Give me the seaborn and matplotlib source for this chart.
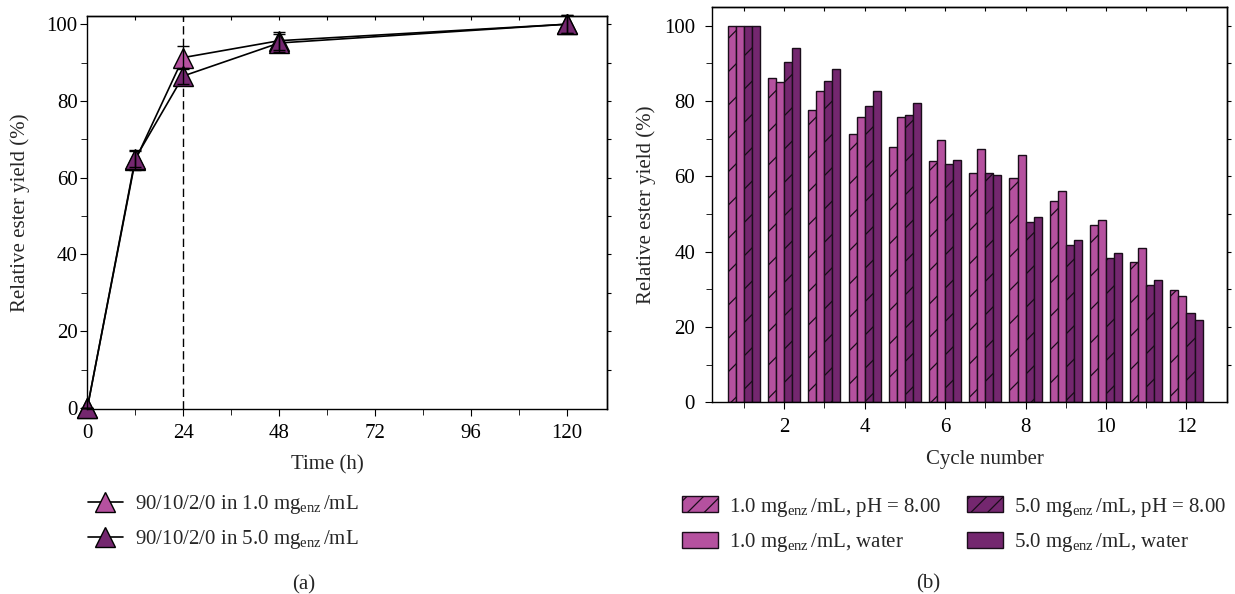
import pandas as pd
import seaborn as sns
import matplotlib.pyplot as plt
from matplotlib.lines import Line2D
from matplotlib.patches import Patch
from matplotlib.ticker import MultipleLocator, FixedLocator

# (a) relative ester yield vs time
time_h = [0, 12, 24, 48, 120]
yield_1mg = [0, 64.5, 91.3, 95.7, 100]
yield_5mg = [0, 65.0, 86.5, 95.1, 100]
err_1mg = [0, 2.4, 2.9, 2.3, 2.3]
err_5mg = [0, 2.3, 2.2, 2.4, 2.3]

# (b) relative ester yield per reuse cycle
cycles = list(range(1, 13))
ph8_1mg = [100, 86.0, 77.5, 71.3, 67.8, 64.1, 61.0, 59.7, 53.5, 47.0, 37.3, 29.7]
water_1mg = [100, 85.1, 82.8, 75.9, 75.7, 69.6, 67.4, 65.7, 56.1, 48.5, 40.9, 28.2]
ph8_5mg = [100, 90.3, 85.2, 78.7, 76.4, 63.3, 60.8, 48.0, 41.8, 38.3, 31.2, 23.6]
water_5mg = [100, 94.2, 88.6, 82.7, 79.6, 64.4, 60.3, 49.2, 43.0, 39.7, 32.6, 21.9]

LIGHT = "#b5519f"
DARK = "#74276f"
EDGE = "#1a0d1a"
MG = r"mg$_{\mathrm{enz}}\,$/mL"
lab_a = [f"90/10/2/0 in 1.0 {MG}", f"90/10/2/0 in 5.0 {MG}"]
lab_b = [f"1.0 {MG}, pH = 8.00", f"1.0 {MG}, water",
         f"5.0 {MG}, pH = 8.00", f"5.0 {MG}, water"]

sns.set_style("ticks")
plt.rcParams.update({
    "font.family": ["Liberation Serif", "DejaVu Serif"],
    "mathtext.fontset": "custom",
    "mathtext.rm": "Liberation Serif",
    "mathtext.it": "Liberation Serif:italic",
    "font.size": 15,
    "axes.linewidth": 1.0,
    "axes.edgecolor": "black",
    "xtick.major.size": 5, "ytick.major.size": 5,
    "xtick.minor.size": 4, "ytick.minor.size": 4,
    "xtick.color": "black", "ytick.color": "black",
    "hatch.linewidth": 0.9,
})
FS = 15

fig = plt.figure(figsize=(12.35, 5.94), dpi=100)
ax_a = fig.add_axes([0.0707, 0.3114, 0.4208, 0.6621])
ax_b = fig.add_axes([0.5763, 0.3227, 0.4170, 0.6650])

# ---- panel (a)
df_a = pd.DataFrame({
    "time": time_h * 2,
    "yield": yield_1mg + yield_5mg,
    "series": [lab_a[0]] * len(time_h) + [lab_a[1]] * len(time_h),
})
sns.lineplot(data=df_a, x="time", y="yield", hue="series", hue_order=lab_a,
             palette=[LIGHT, DARK], marker="^", markersize=14,
             markeredgecolor="k", markeredgewidth=1.0, linewidth=1.2,
             errorbar=None, legend=False, ax=ax_a, clip_on=False)
for ln in ax_a.lines:
    ln.set_markerfacecolor(ln.get_color())
    ln.set_color("k")
for y, e in [(yield_1mg, err_1mg), (yield_5mg, err_5mg)]:
    ax_a.errorbar(time_h, y, yerr=e, fmt="none", ecolor="k", elinewidth=1,
                  capsize=4, capthick=1, zorder=3, clip_on=False)
ax_a.axvline(24, color="k", lw=1, ls=(0, (6, 3)), zorder=1)

ax_a.set_xlim(0, 130)
ax_a.set_ylim(-0.26, 102.2)
ax_a.xaxis.set_major_locator(FixedLocator([0, 24, 48, 72, 96, 120]))
ax_a.xaxis.set_minor_locator(MultipleLocator(12))
ax_a.yaxis.set_major_locator(MultipleLocator(20))
ax_a.yaxis.set_minor_locator(MultipleLocator(10))
ax_a.tick_params(axis="x", which="both", direction="out", pad=6, labelsize=FS)
ax_a.tick_params(axis="y", which="both", direction="out", pad=2, labelsize=FS)
ax_a.set_xlabel("Time (h)", fontsize=FS)
ax_a.set_ylabel("Relative ester yield (%)", fontsize=FS)
ax_a.xaxis.label.set_va("center")
ax_a.yaxis.label.set_va("center")
ax_a.xaxis.set_label_coords(60 / 130, -0.1416)
ax_a.yaxis.set_label_coords(-0.1295, 0.5)
top_a = ax_a.secondary_xaxis("top")
top_a.set_xticks(list(range(12, 121, 12)))
top_a.tick_params(direction="in", length=3, labeltop=False)
right_a = ax_a.secondary_yaxis("right")
right_a.set_yticks(list(range(10, 101, 10)))
right_a.tick_params(direction="out", length=3, labelright=False)

hand_a = [Line2D([], [], color="k", lw=1.2, marker="^", markersize=14,
                 markerfacecolor=c, markeredgecolor="k", markeredgewidth=1.0)
          for c in (LIGHT, DARK)]
fig.legend(handles=hand_a, labels=lab_a, loc="center left",
           bbox_to_anchor=(88 / 1235, 1 - 522.4 / 594), frameon=False,
           borderpad=0, borderaxespad=0, handlelength=1.67,
           handletextpad=0.59, labelspacing=0.58, fontsize=FS)

# ---- panel (b)
df_b = pd.DataFrame({
    "cycle": cycles * 4,
    "yield": ph8_1mg + water_1mg + ph8_5mg + water_5mg,
    "condition": [c for c in lab_b for _ in cycles],
})
sns.barplot(data=df_b, x="cycle", y="yield", hue="condition", hue_order=lab_b,
            palette=[LIGHT, LIGHT, DARK, DARK], saturation=1, width=0.8,
            edgecolor=EDGE, linewidth=1.0, errorbar=None, legend=False, ax=ax_b)
for cont, h in zip(ax_b.containers, ["/", "", "/", ""]):
    for bar in cont:
        bar.set_hatch(h)

ax_b.set_xlim(-0.8, 12.0)
ax_b.set_ylim(0, 104.9)
ax_b.set_xticks([1, 3, 5, 7, 9, 11], labels=["2", "4", "6", "8", "10", "12"])
ax_b.xaxis.set_minor_locator(FixedLocator([0, 2, 4, 6, 8, 10]))
ax_b.yaxis.set_major_locator(MultipleLocator(20))
ax_b.yaxis.set_minor_locator(MultipleLocator(10))
ax_b.tick_params(axis="x", which="both", direction="out", pad=6, labelsize=FS)
ax_b.tick_params(axis="y", which="both", direction="out", pad=7, labelsize=FS)
ax_b.set_xlabel("Cycle number", fontsize=FS)
ax_b.set_ylabel("Relative ester yield (%)", fontsize=FS)
ax_b.xaxis.label.set_va("center")
ax_b.yaxis.label.set_va("center")
ax_b.xaxis.set_label_coords(6.8 / 12.8, -0.1443)
ax_b.yaxis.set_label_coords(-0.1276, 0.5)
top_b = ax_b.secondary_xaxis("top")
top_b.set_xticks(list(range(0, 12)))
top_b.tick_params(direction="in", length=3, labeltop=False)
right_b = ax_b.secondary_yaxis("right")
right_b.set_yticks(list(range(10, 101, 10)))
right_b.tick_params(direction="out", length=3, labelright=False)

hand_b = [Patch(facecolor=c, edgecolor=EDGE, hatch=h, linewidth=1.0)
          for c, h in zip([LIGHT, LIGHT, DARK, DARK], ["//", "", "//", ""])]
for i, x0 in enumerate([682.3, 967.3]):
    fig.legend(handles=hand_b[2 * i:2 * i + 2], labels=lab_b[2 * i:2 * i + 2],
               loc="center left", bbox_to_anchor=(x0 / 1235, 1 - 524.8 / 594),
               frameon=False, borderpad=0, borderaxespad=0,
               handlelength=1.70, handleheight=0.82, handletextpad=0.56,
               labelspacing=0.6, fontsize=FS)

fig.text(304 / 1235, 1 - 584.7 / 594, "(a)", ha="center", va="center", fontsize=FS)
fig.text(928.3 / 1235, 1 - 584 / 594, "(b)", ha="center", va="center", fontsize=FS)

fig.savefig("out.png", dpi=100)
